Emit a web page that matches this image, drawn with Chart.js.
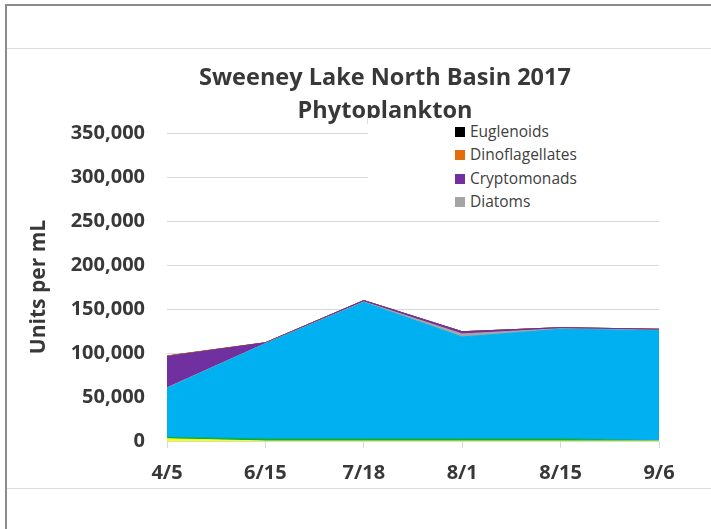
<!DOCTYPE html>
<html lang="en">
<head>
    <meta charset="UTF-8">
    <title>Sweeney Lake North Basin 2017 Phytoplankton</title>
    <style>
        body {
            margin: 0;
            background-color: #ffffff;
            font-family: 'Open Sans', sans-serif;
        }
        .frame-left {
            position: absolute; left: 5px; top: 5px; width: 2px; height: 524px; background: #8c8c8c;
        }
        .frame-top {
            position: absolute; left: 5px; top: 4px; width: 706px; height: 2px; background: #8c8c8c;
        }
        .cell-line {
            position: absolute; left: 7px; width: 704px; height: 1px; background: #dcdcdc;
        }
        .chart-box {
            position: absolute; left: 0; top: 0; width: 711px; height: 529px;
        }
        .title {
            position: absolute; left: 135px; top: 60px; width: 500px;
            text-align: center; font-weight: bold; font-size: 23.5px; line-height: 33px;
            color: #383838;
        }
        .legend {
            position: absolute; left: 368px; top: 118px; width: 294px; height: 95px;
            background: #ffffff;
        }
        .legend div {
            position: absolute; left: 87px; height: 20px; line-height: 20px;
            font-size: 15.5px; color: #404040; white-space: nowrap;
        }
        .legend span {
            display: inline-block; width: 10px; height: 10px; margin-right: 5px;
        }
    </style>
    <script src="https://cdn.jsdelivr.net/npm/chart.js"></script>
</head>
<body>
    <div class="frame-left"></div>
    <div class="frame-top"></div>
    <div class="cell-line" style="top: 48px;"></div>
    <div class="cell-line" style="top: 488px;"></div>

    <div class="chart-box">
        <canvas id="phytoChart"></canvas>
    </div>
    <div class="title">Sweeney Lake North Basin 2017<br>Phytoplankton</div>
    <div class="legend" id="legend"></div>

    <script>
        // sample dates
        const dates = ['4/5', '6/15', '7/18', '8/1', '8/15', '9/6'];

        // units per mL, bottom of the stack first
        const chrysophytes    = [2500, 0, 0, 0, 0, 0];
        const greens          = [1500, 2500, 2500, 2500, 2500, 300];
        const bluegreens      = [56000, 108000, 155000, 115700, 124500, 125000];
        const diatoms         = [500, 300, 600, 3500, 600, 500];
        const cryptomonads    = [35500, 800, 1500, 2500, 1200, 1200];
        const dinoflagellates = [600, 100, 0, 0, 0, 0];
        const euglenoids      = [0, 0, 0, 0, 0, 0];

        const yTicks = [0, 50000, 100000, 150000, 200000, 250000, 300000, 350000];

        const series = [
            { label: 'Chrysophytes', data: chrysophytes, color: '#ffff00' },
            { label: 'Greens', data: greens, color: '#00b050' },
            { label: 'Bluegreens', data: bluegreens, color: '#00b0f0' },
            { label: 'Diatoms', data: diatoms, color: '#a5a5a5' },
            { label: 'Cryptomonads', data: cryptomonads, color: '#7030a0' },
            { label: 'Dinoflagellates', data: dinoflagellates, color: '#e46c0a' },
            { label: 'Euglenoids', data: euglenoids, color: '#000000' }
        ];

        // only the top four entries fit in the legend box
        const legendShown = ['Euglenoids', 'Dinoflagellates', 'Cryptomonads', 'Diatoms'];
        const legend = document.getElementById('legend');
        legendShown.forEach((name, i) => {
            const s = series.find(x => x.label === name);
            const row = document.createElement('div');
            row.style.top = (3 + i * 23.3) + 'px';
            row.innerHTML = '<span style="background:' + s.color + '"></span>' + name;
            legend.appendChild(row);
        });

        const ctx = document.getElementById('phytoChart').getContext('2d');
        new Chart(ctx, {
            type: 'line',
            data: {
                labels: dates,
                datasets: series.map((s, i) => ({
                    label: s.label,
                    data: s.data,
                    backgroundColor: s.color,
                    borderColor: s.color,
                    borderWidth: 1,
                    pointRadius: 0,
                    tension: 0,
                    fill: i === 0 ? 'origin' : '-1'
                }))
            },
            options: {
                responsive: true,
                maintainAspectRatio: false,
                animation: false,
                layout: {
                    padding: { top: 133, left: 22, right: 52, bottom: 48 }
                },
                plugins: {
                    legend: { display: false },
                    title: { display: false },
                    tooltip: { enabled: false }
                },
                scales: {
                    x: {
                        afterFit: scale => { scale.height = 40; },
                        grid: {
                            drawOnChartArea: false,
                            drawTicks: true,
                            tickLength: 7,
                            color: '#d9d9d9'
                        },
                        border: { color: '#d9d9d9' },
                        ticks: {
                            padding: 13,
                            color: '#383838',
                            font: { family: 'Open Sans', size: 20, weight: 'bold' }
                        }
                    },
                    y: {
                        stacked: true,
                        min: 0,
                        max: 350000,
                        afterFit: scale => { scale.width = 145; },
                        afterBuildTicks: scale => {
                            scale.ticks = yTicks.map(v => ({ value: v }));
                        },
                        grid: { color: '#d9d9d9', drawTicks: false },
                        border: { display: false },
                        title: {
                            display: true,
                            text: 'Units per mL',
                            color: '#383838',
                            padding: { top: 4, bottom: 0 },
                            font: { family: 'Open Sans', size: 21, weight: 'bold' }
                        },
                        ticks: {
                            padding: 22,
                            color: '#383838',
                            font: { family: 'Open Sans', size: 20, weight: 'bold' },
                            callback: v => v.toLocaleString('en-US')
                        }
                    }
                }
            }
        });
    </script>
</body>
</html>
